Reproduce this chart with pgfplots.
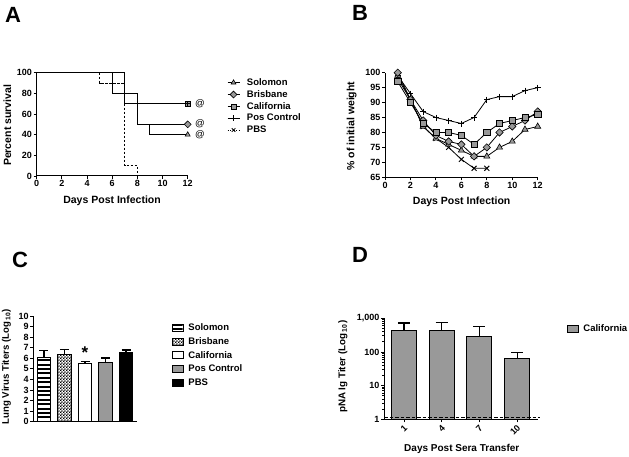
\documentclass[border=0pt]{standalone}
\usepackage{fontspec}
\setmainfont{Liberation Sans}
\usepackage{pgfplots}
\pgfplotsset{compat=1.18}
\usetikzlibrary{patterns,patterns.meta}
\definecolor{mygray}{HTML}{999999}
\pgfdeclarepatternformonly{finechecker}{\pgfpointorigin}{\pgfqpoint{3.2pt}{3.2pt}}{\pgfqpoint{3.2pt}{3.2pt}}{%
  \pgfpathrectangle{\pgfpointorigin}{\pgfqpoint{1.6pt}{1.6pt}}%
  \pgfpathrectangle{\pgfqpoint{1.6pt}{1.6pt}}{\pgfqpoint{1.6pt}{1.6pt}}%
  \pgfusepath{fill}}
\pgfplotsset{
  gp/.style={
    scale only axis,
    axis lines*=left,
    axis line style={line width=1pt},
    every tick/.style={line width=0.9pt, black},
    tick align=outside,
    major tick length=3pt,
    minor tick length=2pt,
    /pgf/number format/assume math mode=true,
    ticklabel style={font=\bfseries\fontsize{9}{10}\selectfont, inner sep=1.5pt},
    label style={font=\bfseries\fontsize{10.5}{12}\selectfont},
    legend style={draw=none, fill=none, font=\bfseries\fontsize{9.5}{11}\selectfont, anchor=north west},
    legend cell align=left,
    clip=false,
  },
  lineleg/.style={legend image code/.code={\draw[mark repeat=2,mark phase=2] plot coordinates {(0pt,0pt)(6pt,0pt)(12pt,0pt)};\path (17pt,0pt);}},
  boxleg/.style={legend image code/.code={\draw[##1, line width=1pt] (0pt,-3.5pt) rectangle (11.5pt,3.5pt);\path (13.5pt,0pt);}},
  ebar/.style={error bars/.cd, y dir=plus, y explicit, error mark=-,
    error bar style={line width=1.1pt, black, solid},
    error mark options={rotate=90, black, line width=1.1pt, mark size=#1, solid}},
}
\begin{document}
\begin{tikzpicture}
\node[font=\bfseries\fontsize{22}{24}\selectfont] at (13pt,442pt) {A};
\node[font=\bfseries\fontsize{22}{24}\selectfont] at (360pt,444pt) {B};
\node[font=\bfseries\fontsize{22}{24}\selectfont] at (20pt,197pt) {C};
\node[font=\bfseries\fontsize{22}{24}\selectfont] at (360pt,202pt) {D};

% ---------------- Panel A ----------------
\begin{axis}[gp, at={(36.7pt,281pt)}, anchor=south west, width=151pt, height=103.3pt,
  xmin=0, xmax=12, ymin=0, ymax=100,
  xtick={0,2,...,12}, ytick={0,20,...,100},
  xlabel={Days Post Infection}, ylabel={Percent survival},
  xlabel style={at={(axis description cs:0.499,-0.239)}, anchor=center},
  ylabel style={at={(axis description cs:-0.195,0.49)}, anchor=center},
  lineleg,
  legend style={at={(axis description cs:1.24,0.985)}, row sep=-0.5pt},
]
\addplot[black, line width=1pt, forget plot] coordinates {(0,100)(6,100)(6,80)(8,80)(8,50)(9,50)(9,40)(12,40)};
\addplot[black, line width=1pt, forget plot] coordinates {(0,100)(6,100)(6,80)(8,80)(8,50)(12,50)};
\addplot[black, line width=1pt, forget plot] coordinates {(0,100)(7,100)(7,70)(12,70)};
\addplot[black, line width=1pt, dashed, dash pattern=on 2.5pt off 1.5pt, forget plot] coordinates {(5,100)(5,90)(7,90)(7,10)(8,10)(8,0)};
\addplot[only marks, mark=triangle*, mark size=2.9pt, mark options={fill=mygray, draw=black, line width=0.6pt}, forget plot] coordinates {(12,40)};
\addplot[only marks, mark=square*, mark size=2.4pt, mark options={rotate=45, fill=mygray, draw=black, line width=0.6pt}, forget plot] coordinates {(12,50)};
\addplot[only marks, mark=square*, mark size=2.5pt, mark options={fill=mygray, draw=black, line width=0.6pt}, forget plot] coordinates {(12,70)};
\addplot[only marks, mark=+, mark size=2.5pt, mark options={black, line width=0.7pt}, forget plot] coordinates {(12,70)};
\node[font=\fontsize{9.5}{10}\selectfont] at (axis cs:12.98,70) {@};
\node[font=\fontsize{9.5}{10}\selectfont] at (axis cs:12.98,51) {@};
\node[font=\fontsize{9.5}{10}\selectfont] at (axis cs:12.98,40) {@};
\addlegendimage{black, line width=0.8pt, mark=triangle*, mark size=2.8pt, mark options={fill=mygray, draw=black, line width=0.6pt}}
\addlegendentry{Solomon}
\addlegendimage{black, line width=0.8pt, mark=square*, mark size=2.4pt, mark options={rotate=45, fill=mygray, draw=black, line width=0.6pt}}
\addlegendentry{Brisbane}
\addlegendimage{black, line width=0.8pt, mark=square*, mark size=2.5pt, mark options={fill=mygray, draw=black, line width=0.6pt}}
\addlegendentry{California}
\addlegendimage{black, line width=0.8pt, mark=+, mark size=3pt, mark options={black, line width=0.8pt}}
\addlegendentry{Pos Control}
\addlegendimage{black, line width=0.8pt, dotted, mark=x, mark size=2.5pt, mark options={solid, black, line width=0.8pt}}
\addlegendentry{PBS}
\end{axis}

% ---------------- Panel B ----------------
\begin{axis}[gp, at={(385pt,279.7pt)}, anchor=south west, width=152.7pt, height=104.6pt,
  xmin=0, xmax=12, ymin=65, ymax=100,
  xtick={0,2,...,12}, ytick={65,70,...,100},
  xlabel={Days Post Infection}, ylabel={\% of initial weight},
  xlabel style={at={(axis description cs:0.502,-0.236)}, anchor=center},
  ylabel style={at={(axis description cs:-0.218,0.49)}, anchor=center},
]
\addplot[black, line width=0.8pt, mark=x, mark size=3.5pt, mark options={black, line width=1pt}] coordinates {
(1,98)(2,91)(3,82)(4,78)(5,75)(6,71)(7,68)(8,68)};
\addplot[black, line width=0.8pt, mark=+, mark size=3pt, mark options={black, line width=0.7pt}] coordinates {
(1,99)(2,93)(3,87)(4,85)(5,84)(6,83)(7,85)(8,91)(9,92)(10,92)(11,94)(12,95)};
\addplot[black, line width=0.8pt, mark=triangle*, mark size=3.5pt, mark options={fill=mygray, draw=black, line width=0.6pt}] coordinates {
(1,99)(2,91)(3,82)(4,78)(5,76)(6,74)(7,72)(8,72)(9,75)(10,77)(11,81)(12,82)};
\addplot[black, line width=0.8pt, mark=square*, mark size=2.6pt, mark options={rotate=45, fill=mygray, draw=black, line width=0.6pt}] coordinates {
(1,100)(2,91)(3,84)(4,79)(5,77)(6,76)(7,72)(8,75)(9,80)(10,82)(11,84)(12,87)};
\addplot[black, line width=0.8pt, mark=square*, mark size=3.1pt, mark options={fill=mygray, draw=black, line width=0.6pt}] coordinates {
(1,97)(2,90)(3,83)(4,80)(5,80)(6,79)(7,76)(8,80)(9,83)(10,84)(11,85)(12,86)};
\end{axis}

% ---------------- Panel C ----------------
\begin{axis}[gp, at={(33.3pt,35.3pt)}, anchor=south west, width=103.4pt, height=105.7pt,
  xmin=-0.52, xmax=4.52, ymin=0, ymax=10,
  xtick=\empty, ytick={0,1,...,10},
  ylabel={Lung Virus Titers (Log\,\textsubscript{10})},
  ylabel style={at={(axis description cs:-0.26,0.52)}, anchor=center, font=\bfseries\fontsize{9.6}{10}\selectfont},
  boxleg,
  legend style={at={(axis description cs:1.31,0.965)}, row sep=1.3pt},
]
\addplot[ybar, bar width=13.5pt, bar shift=0pt, draw=black, line width=1pt, pattern={Lines[angle=0,distance=4.4pt,line width=2pt]}, pattern color=black,
  ebar=4.5pt] coordinates {(0,6.06) += (0,0.66)};
\addlegendentry{Solomon}
\addplot[ybar, bar width=13.5pt, bar shift=0pt, draw=black, line width=1pt, pattern=finechecker, pattern color=black,
  ebar=4.5pt] coordinates {(1,6.31) += (0,0.54)};
\addlegendentry{Brisbane}
\addplot[ybar, bar width=13.5pt, bar shift=0pt, draw=black, line width=1pt, fill=white,
  ebar=4.5pt] coordinates {(2,5.55) += (0,0.13)};
\addlegendentry{California}
\addplot[ybar, bar width=13.5pt, bar shift=0pt, draw=black, line width=1pt, fill=mygray,
  ebar=4.5pt] coordinates {(3,5.62) += (0,0.41)};
\addlegendentry{Pos Control}
\addplot[ybar, bar width=13.5pt, bar shift=0pt, draw=black, line width=1pt, fill=black,
  ebar=4.5pt] coordinates {(4,6.59) += (0,0.19)};
\addlegendentry{PBS}
\node[anchor=base, font=\bfseries\fontsize{17}{17}\selectfont] at (axis cs:2,6.0) {*};
\end{axis}

% ---------------- Panel D ----------------
\begin{axis}[gp, at={(384pt,37.7pt)}, anchor=south west, width=154.3pt, height=101pt,
  ymode=log, log origin=0,
  xmin=-0.53, xmax=3.56, ymin=1, ymax=1000,
  xtick={0,1,2,3}, xticklabels={1,4,7,10},
  xticklabel style={rotate=45, anchor=east, yshift=-4pt},
  ytick={1,10,100,1000}, yticklabels={1,10,100,{1,000}},
  minor ytick={2,3,...,9,20,30,...,90,200,300,...,900},
  xlabel={Days Post Sera Transfer}, ylabel={pNA Ig Titer (Log\,\textsubscript{10})},
  xlabel style={at={(axis description cs:0.504,-0.297)}, anchor=center, font=\bfseries\fontsize{10}{12}\selectfont},
  ylabel style={at={(axis description cs:-0.266,0.52)}, anchor=center, font=\bfseries\fontsize{9.8}{10}\selectfont},
  boxleg,
  legend style={at={(axis description cs:1.165,0.975)}},
]
\addplot[ybar, bar width=25pt, bar shift=0pt, draw=black, line width=1pt, fill=mygray,
  ebar=6pt] coordinates {
(0,421) += (0,306) (1,440) += (0,305) (2,292) += (0,285) (3,63.5) += (0,34.5)};
\addlegendentry{California}
\addplot[black, line width=1pt, dashed, dash pattern=on 3.5pt off 2pt, forget plot] coordinates {(-0.53,1.12)(3.6,1.12)};
\end{axis}
\pgfresetboundingbox
\path[use as bounding box] (0pt,0pt) rectangle (629pt,457pt);
\end{tikzpicture}
\end{document}
